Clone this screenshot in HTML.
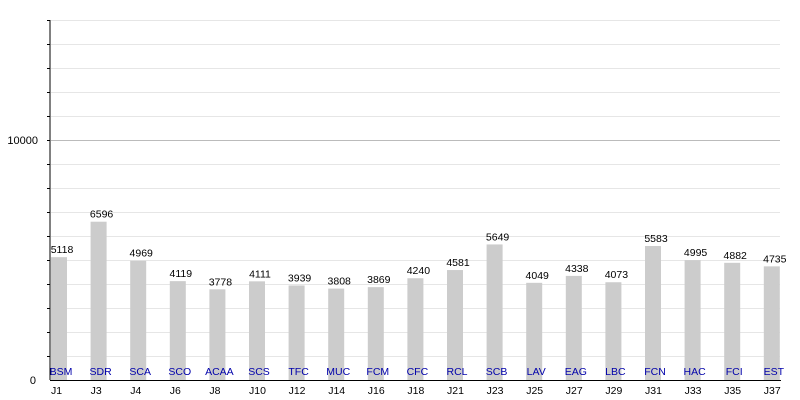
<!DOCTYPE html>
<html><head><meta charset="utf-8"><style>
html,body{margin:0;padding:0;background:#fff;}
svg{display:block;font-family:"Liberation Sans",sans-serif;}
</style></head><body>
<svg width="800" height="400" viewBox="0 0 800 400" xmlns="http://www.w3.org/2000/svg">
<g id="grid"></g>
<g id="bars"></g>
<line x1="50" y1="20" x2="50" y2="380" stroke="#000" stroke-width="1"/>
<line x1="50" y1="380.5" x2="781" y2="380.5" stroke="#000" stroke-width="1"/>
<text x="38" y="144" font-size="11" text-anchor="end">10000</text>
<text x="36" y="384" font-size="11" text-anchor="end">0</text>
<script>
var ns="http://www.w3.org/2000/svg";
var g=document.getElementById("grid"),b=document.getElementById("bars");
function el(p,t,a,txt){var e=document.createElementNS(ns,t);for(var k in a)e.setAttribute(k,a[k]);if(txt)e.textContent=txt;p.appendChild(e);return e;}
for(var i=1;i<=15;i++){var y=380-i*24+0.5;el(g,"line",{x1:51,x2:780,y1:y,y2:y,stroke:i==10?"#bbb":"#e6e6e6","stroke-width":1});el(g,"line",{x1:47,x2:50,y1:y,y2:y,stroke:"#000"});}
var d=[["J1","BSM",5118],["J3","SDR",6596],["J4","SCA",4969],["J6","SCO",4119],["J8","ACAA",3778],["J10","SCS",4111],["J12","TFC",3939],["J14","MUC",3808],["J16","FCM",3869],["J18","CFC",4240],["J21","RCL",4581],["J23","SCB",5649],["J25","LAV",4049],["J27","EAG",4338],["J29","LBC",4073],["J31","FCN",5583],["J33","HAC",4995],["J35","FCI",4882],["J37","EST",4735]];
d.forEach(function(r,i){var x=51+i*39.6;var h=r[2]*0.024;
el(b,"rect",{x:x,y:380-h,width:16,height:h,fill:"#cccccc"});
el(b,"text",{x:x+11,y:380-h-4,"font-size":10.5,"text-anchor":"middle",fill:"#000"},String(r[2]));
el(b,"text",{x:x+10,y:375,"font-size":10.5,"text-anchor":"middle",fill:"#0000aa"},r[1]);
el(b,"text",{x:x,y:394,"font-size":10.5,fill:"#000"},r[0]);});
</script>
</svg>
</body></html>
